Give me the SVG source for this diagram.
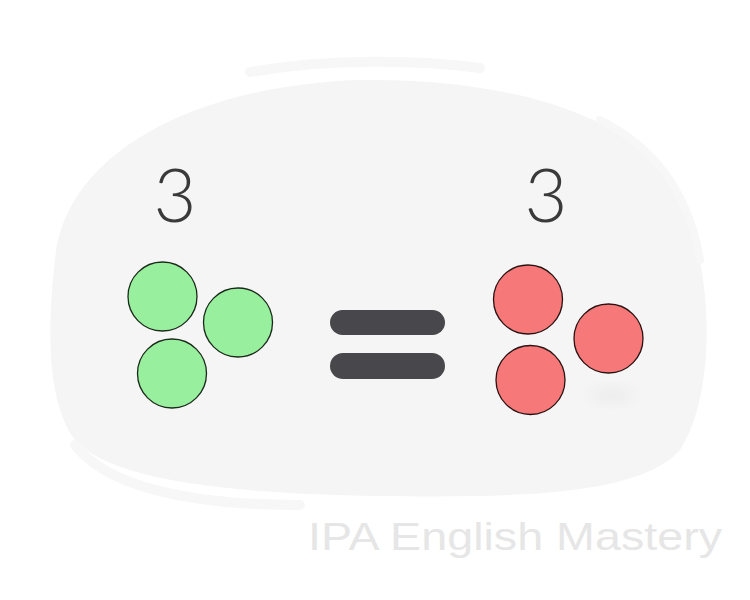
<svg xmlns="http://www.w3.org/2000/svg" width="750" height="600" viewBox="0 0 750 600">
<defs>
<style>
.g{fill:#98f09e;stroke:#1a2a1a;stroke-width:1.3}
.r{fill:#f77878;stroke:#2a1212;stroke-width:1.3}
.bar{fill:#48484c}
.num{font-family:"Lato","Open Sans","Liberation Sans",sans-serif;font-weight:300;font-size:74px;fill:#3a3a3a}
.wm{font-family:"Liberation Sans",Arial,sans-serif;font-size:39px;fill:#e6e6e6}
.brush{stroke:#f7f7f7;fill:none;stroke-linecap:round}
</style>
<filter id="blur" x="-50%" y="-50%" width="200%" height="200%"><feGaussianBlur stdDeviation="7"/></filter>
</defs>
<rect width="750" height="600" fill="#ffffff"/>
<g id="background">
<path d="M55,260 C65,150 200,85 360,80 C520,78 660,120 690,220 C715,300 712,400 680,450 C640,495 520,498 380,496 C230,494 110,480 75,440 C45,400 48,320 55,260 Z" fill="#f5f5f5"/>
<path class="brush" d="M250,72 C330,58 420,60 480,68" stroke-width="10"/>
<path class="brush" d="M75,445 C110,490 200,505 300,505" stroke-width="10"/>
<path class="brush" d="M600,120 C660,150 690,200 700,260" stroke-width="8"/>
<ellipse cx="612" cy="395" rx="22" ry="7" fill="#ebebeb" filter="url(#blur)"/>
</g>
<g id="left-count"><text class="num" x="175" y="222" text-anchor="middle">3</text></g>
<g id="right-count"><text class="num" x="546" y="222" text-anchor="middle">3</text></g>
<g id="green-circles">
<circle class="g" cx="162.5" cy="296.5" r="34.5"/>
<circle class="g" cx="238" cy="322.5" r="34.5"/>
<circle class="g" cx="172" cy="373.5" r="34.5"/>
</g>
<g id="equals">
<rect class="bar" x="330" y="310" width="115" height="25" rx="12.5"/>
<rect class="bar" x="330" y="353" width="115" height="26" rx="13"/>
</g>
<g id="red-circles">
<circle class="r" cx="528" cy="299.5" r="34.5"/>
<circle class="r" cx="608.5" cy="338.5" r="34.5"/>
<circle class="r" cx="530.5" cy="380" r="34.5"/>
</g>
<g id="watermark"><text class="wm" x="308" y="550" textLength="414" lengthAdjust="spacingAndGlyphs">IPA English Mastery</text></g>
</svg>
